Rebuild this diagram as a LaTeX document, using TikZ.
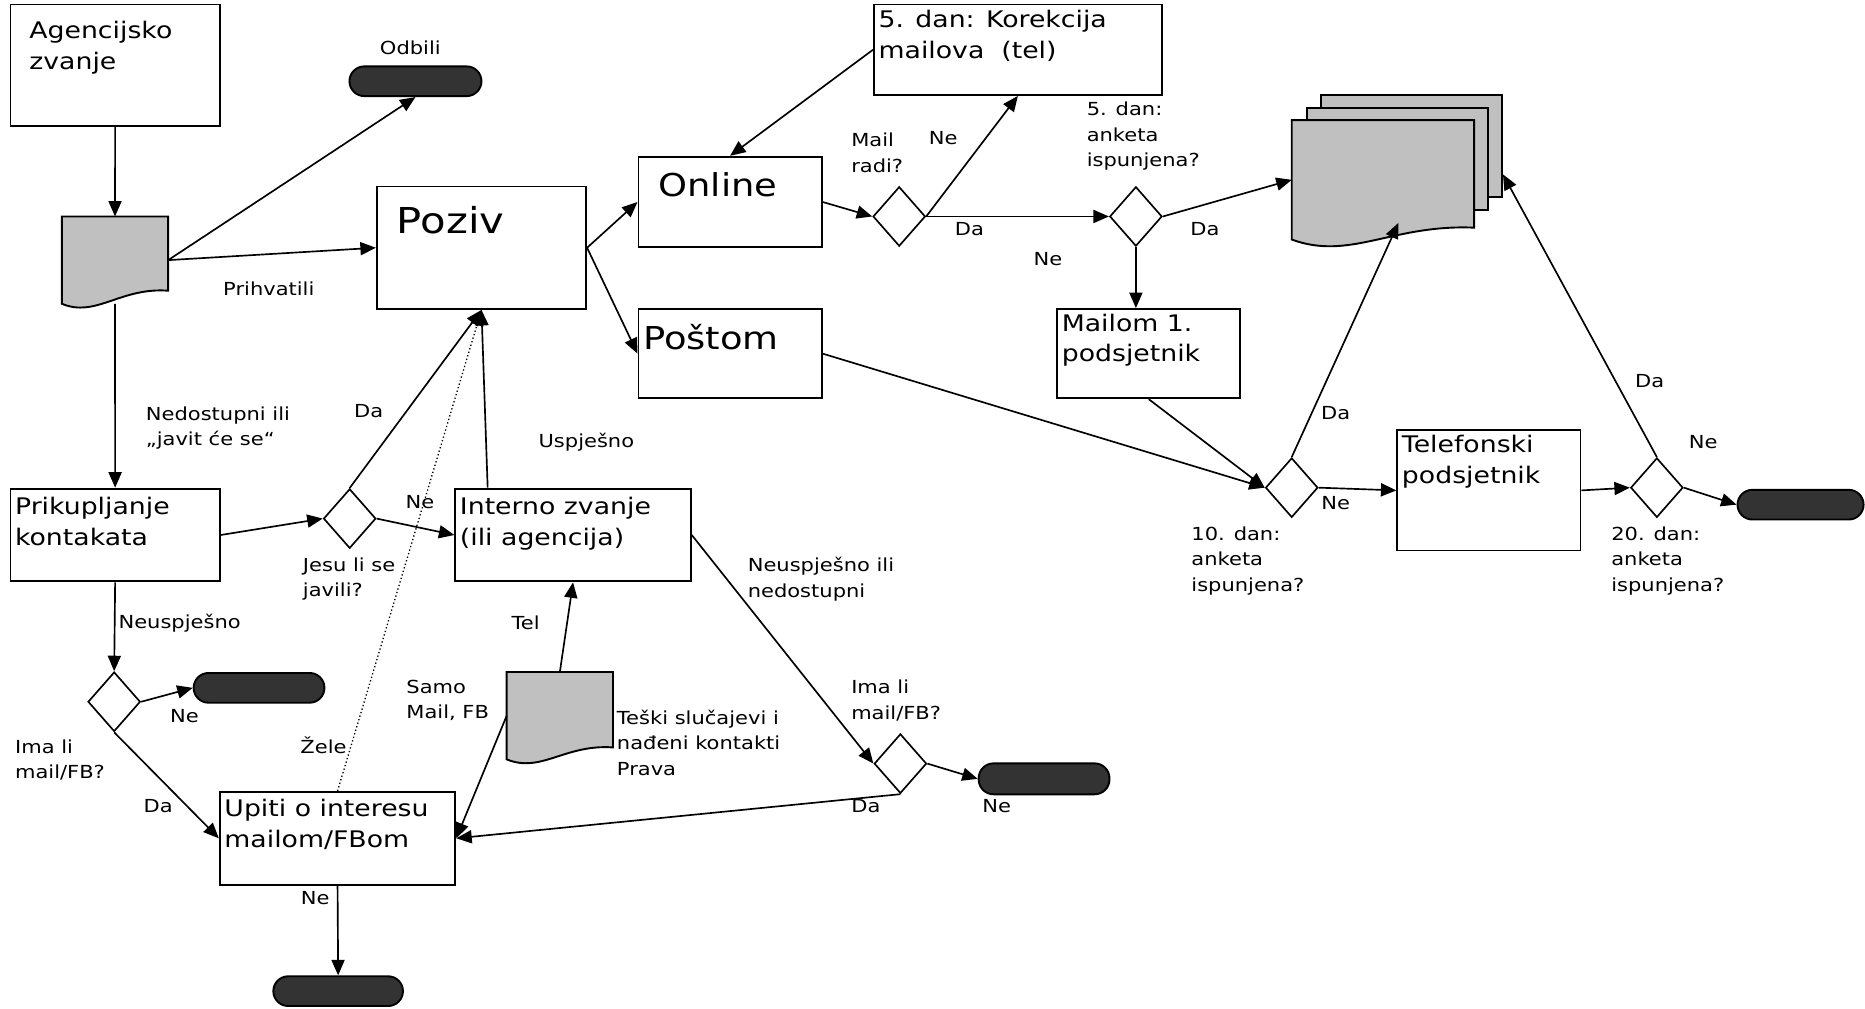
\documentclass[tikz,border=0pt]{standalone}
\usepackage{fontspec}
\setmainfont{DejaVu Sans}[FakeStretch=1.17]
\usetikzlibrary{shapes,positioning,arrows.meta,calc}
\definecolor{docgray}{RGB}{192,192,192}
\definecolor{termgray}{RGB}{51,51,51}
\newcommand{\lblfont}{\fontsize{15.1}{21.5}\selectfont}
\newcommand{\boxfont}{\fontsize{19.2}{26}\selectfont}
\newcommand{\bigfont}{\fontsize{26.5}{32}\selectfont}
\tikzset{
  box/.style={draw, rectangle, anchor=north west, inner sep=0, line width=1.6pt},
  boxtxt/.style={anchor=north west, inner sep=0, align=left, font=\boxfont},
  lbl/.style={inner sep=0, align=left, font=\lblfont},
  dec/.style={draw, diamond, fill=white, inner sep=0, minimum width=44, minimum height=50},
  term/.style={draw, fill=termgray, rounded corners=12.5pt, anchor=north west, inner sep=0, line width=1.6pt},
  docnode/.style={anchor=north west, inner sep=0},
  docline/.style={draw=black, fill=docgray, line width=1.6pt}
}
% document shape on an empty node: #1 name, #2 rise of right end, #3 sag
\newcommand{\docpath}[3]{%
  \filldraw[docline] (#1.north west) -- (#1.north east) -- ($(#1.south east)+(0,-#2)$)
    .. controls ($(#1.south west)!0.55!(#1.south east)+(0,-#2-3)$)
    and ($(#1.south west)!0.32!(#1.south east)+(0,#3)$) .. (#1.south west) -- cycle;}

\begin{document}
\begin{tikzpicture}[x=1pt, y=-1pt, line width=1.4pt, >={Triangle[length=13pt,width=11pt]}]
  \useasboundingbox (0,0) rectangle (1568,848);

  % boxes
  \node[box, minimum width=176, minimum height=102] (agency) at (8,3) {};
  \node[box, minimum width=176, minimum height=103] (poziv) at (316,156) {};
  \node[box, minimum width=154, minimum height=76] (online) at (536,131) {};
  \node[box, minimum width=154, minimum height=75] (postom) at (536,259) {};
  \node[box, minimum width=242, minimum height=76] (korekcija) at (734,3) {};
  \node[box, minimum width=154, minimum height=75] (mailom) at (888,259) {};
  \node[box, minimum width=154, minimum height=101] (telefon) at (1174,361) {};
  \node[box, minimum width=176, minimum height=78] (prikup) at (8,410) {};
  \node[box, minimum width=198, minimum height=78] (interno) at (382,410) {};
  \node[box, minimum width=198, minimum height=78] (upiti) at (184,665) {};

  \node[boxtxt] (agencyT) at ($(agency.north west)+(16,14)$) {Agencijsko\\zvanje};
  \node[boxtxt, font=\fontsize{30}{34}\selectfont] (pozivT) at ($(poziv.north west)+(17,17)$) {Poziv};
  \node[boxtxt, font=\bigfont] (onlineT) at ($(online.north west)+(17,13)$) {Online};
  \node[boxtxt, font=\bigfont] (postomT) at ($(postom.north west)+(4,13)$) {Poštom};
  \node[boxtxt] (korekcijaT) at ($(korekcija.north west)+(4,5)$) {5. dan: Korekcija\\mailova \ (tel)};
  \node[boxtxt] (mailomT) at ($(mailom.north west)+(4,4)$) {Mailom 1.\\podsjetnik};
  \node[boxtxt] (telefonT) at ($(telefon.north west)+(4,4)$) {Telefonski\\podsjetnik};
  \node[boxtxt] (prikupT) at ($(prikup.north west)+(4,7)$) {Prikupljanje\\kontakata};
  \node[boxtxt] (internoT) at ($(interno.north west)+(4,7)$) {Interno zvanje\\(ili agencija)};
  \node[boxtxt] (upitiT) at ($(upiti.north west)+(4,6)$) {Upiti o interesu\\mailom/FBom};

  % documents
  \node[docnode, minimum width=88, minimum height=72] (doc1) at (52,182) {};
  \node[docnode, minimum width=88, minimum height=72] (doc2) at (426,565) {};
  \node[box, fill=docgray, minimum width=152, minimum height=86] (docsback) at (1110,79) {};
  \node[box, fill=docgray, minimum width=152, minimum height=86] (docsmid) at (1098,90) {};
  \node[docnode, minimum width=152, minimum height=99] (docsfront) at (1086,101) {};
  \docpath{doc1}{11}{12}
  \docpath{doc2}{10}{12}
  \docpath{docsfront}{10}{18}

  % terminals
  \node[term, minimum width=111, minimum height=25] (odbili) at (293,55) {};
  \node[term, minimum width=110, minimum height=25] (endK) at (162,565) {};
  \node[term, minimum width=110, minimum height=26] (endI) at (822,641) {};
  \node[term, minimum width=109, minimum height=25] (endU) at (229,820) {};
  \node[term, minimum width=106, minimum height=25] (endT) at (1460,411) {};

  % decisions
  \node[dec] (mailq) at (756,182) {};
  \node[dec] (day5q) at (955,182) {};
  \node[dec] (day10q) at (1086,410) {};
  \node[dec] (day20q) at (1393,410) {};
  \node[dec] (javq) at (294,436) {};
  \node[dec] (imaq) at (96,590) {};
  \node[dec] (imaqR) at (757,642) {};

  % connectors
  \draw [->] (agency.south) -- (doc1.north);
  \draw [->] (doc1.east) -- (odbili.south);
  \draw [->] (doc1.east) -- (poziv.west);
  \draw [->] (doc1.south) -- (prikup.north);
  \draw [->] (poziv.east) -- (online.west);
  \draw [->] (poziv.east) -- (postom.west);
  \draw [->] (online.east) -- (mailq.west);
  \draw [->] (mailq.east) -- (korekcija.south);
  \draw [->] (korekcija.west) -- (online.north);
  \draw [->] (mailq.east) -- (day5q.west);
  \draw [->] (day5q.east) -- (docsfront.west);
  \draw [->] (day5q.south) -- (day5q.south |- mailom.north);
  \draw [->] (mailom.south) -- (day10q.west);
  \draw [->] (postom.east) -- (day10q.west);
  \draw [->] (day10q.north) -- ($(docsfront.south)+(13,-14)$);
  \draw [->] (day10q.east) -- (telefon.west);
  \draw [->] (telefon.east) -- (day20q.west);
  \draw [->] (day20q.north) -- ($(docsback.south east)+(0,-20)$);
  \draw [->] (day20q.east) -- (endT.west);
  \draw [->] (prikup.east) -- (javq.west);
  \draw [->] (javq.north) -- (poziv.south);
  \draw [->] (javq.east) -- (interno.west);
  \draw [->] ($(interno.north west)+(28,0)$) -- (poziv.south);
  \draw [->] (interno.east) -- (imaqR.west);
  \draw [->] (imaqR.east) -- (endI.west);
  \draw [->] (imaqR.south) -- (upiti.east);
  \draw [->] (prikup.south) -- (imaq.north);
  \draw [->] (imaq.east) -- (endK.west);
  \draw [->] (imaq.south) -- (upiti.west);
  \draw [->, dotted, line width=1.1pt] (upiti.north) -- (poziv.south);
  \draw [->] (upiti.south) -- (endU.north);
  \draw [->] (doc2.north) -- (interno.south);
  \draw [->] (doc2.west) -- (upiti.east);

  % labels
  \node[lbl] (lOdbili) at (345,40) {Odbili};
  \node[lbl] (lPrihv) at (226,243) {Prihvatili};
  \node[lbl, anchor=north west] (lNedost) at (122,341) {Nedostupni ili\\„javit će se“};
  \node[lbl] (lDaJav) at (310,346) {Da};
  \node[lbl] (lUsp) at (493,372) {Uspješno};
  \node[lbl, anchor=north west] (lMail) at (715,111) {Mail\\radi?};
  \node[lbl] (lNeMail) at (793,116) {Ne};
  \node[lbl] (lDaMail) at (815,193) {Da};
  \node[lbl, anchor=north west] (lDay5) at (913,85) {5. dan:\\anketa\\ispunjena?};
  \node[lbl] (lDaDay5) at (1013,193) {Da};
  \node[lbl] (lNeDay5) at (881,218) {Ne};
  \node[lbl] (lDaDay10) at (1123,347) {Da};
  \node[lbl] (lNeDay10) at (1123,423) {Ne};
  \node[lbl, anchor=north west] (lDay10) at (1001,442) {10. dan:\\anketa\\ispunjena?};
  \node[lbl] (lDaDay20) at (1387,320) {Da};
  \node[lbl] (lNeDay20) at (1432,372) {Ne};
  \node[lbl, anchor=north west] (lDay20) at (1354,442) {20. dan:\\anketa\\ispunjena?};
  \node[lbl] (lNeJav) at (353,422) {Ne};
  \node[lbl, anchor=north west] (lJav) at (254,468) {Jesu li se\\javili?};
  \node[lbl, anchor=west] (lNeusp) at (99,524) {Neuspješno};
  \node[lbl] (lNeIma) at (155,602) {Ne};
  \node[lbl, anchor=north west] (lIma) at (12,621) {Ima li\\mail/FB?};
  \node[lbl] (lDaIma) at (133,678) {Da};
  \node[lbl] (lZele) at (272,627) {Žele};
  \node[lbl] (lTel) at (442,524) {Tel};
  \node[lbl, anchor=north west] (lSamo) at (341,571) {Samo\\Mail, FB};
  \node[lbl, anchor=north west] (lTeski) at (518,596) {Teški slučajevi i\\nađeni kontakti\\Prava};
  \node[lbl, anchor=north west] (lNeuspIli) at (628,468) {Neuspješno ili\\nedostupni};
  \node[lbl, anchor=north west] (lImaR) at (715,571) {Ima li\\mail/FB?};
  \node[lbl] (lNeImaR) at (838,678) {Ne};
  \node[lbl] (lDaImaR) at (728,678) {Da};
  \node[lbl] (lNeUpiti) at (265,755) {Ne};
\end{tikzpicture}
\end{document}
